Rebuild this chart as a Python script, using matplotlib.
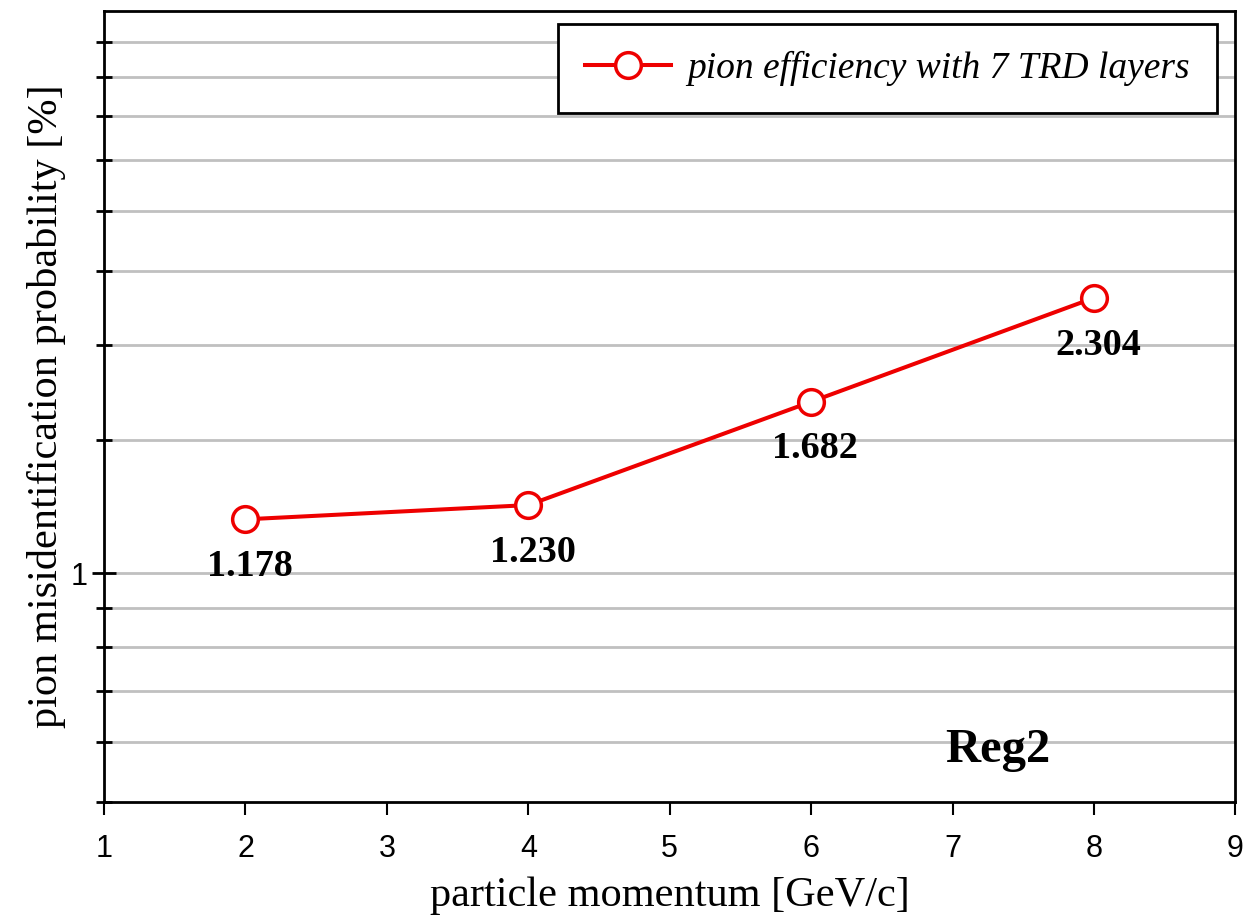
import matplotlib
matplotlib.use("Agg")
import matplotlib.pyplot as plt
from matplotlib.ticker import FixedLocator, NullFormatter, FixedFormatter

# data
momentum = [2, 4, 6, 8]
misid = [1.178, 1.230, 1.682, 2.304]
labels = ["1.178", "1.230", "1.682", "2.304"]
x_ticks = [1, 2, 3, 4, 5, 6, 7, 8, 9]
y_major = [1]
y_minor = [0.5, 0.6, 0.7, 0.8, 0.9, 1.5, 2, 2.5, 3, 3.5, 4, 4.5, 5]

serif = ["Liberation Serif", "DejaVu Serif"]
sans = ["Liberation Sans", "DejaVu Sans"]

fig = plt.figure(figsize=(12.46, 9.19), dpi=100)
ax = fig.add_axes([0.0835, 0.127, 0.908, 0.8615])

ax.set_yscale("log")
ax.set_xlim(1, 9)
ax.set_ylim(0.5, 5.5)

# grid lines at minor + major y positions
for v in y_minor + y_major:
    if v > 0.5:
        ax.axhline(v, color="#c0c0c0", lw=2, zorder=0)

ax.plot(momentum, misid, color="#ee0000", lw=2.9, marker="o", ms=18.5,
        mfc="white", mec="#ee0000", mew=2.5, zorder=3,
        label="pion efficiency with 7 TRD layers")

for x, y, t in zip(momentum, misid, labels):
    ax.annotate(t, (x, y), xytext=(3, -34), textcoords="offset points",
                ha="center", va="center", fontsize=27.5, fontweight="bold",
                family=serif, zorder=4)

ax.text(0.7436, 0.066, "Reg2", transform=ax.transAxes, fontsize=35,
        fontweight="bold", family=serif, ha="left", va="center")

ax.xaxis.set_major_locator(FixedLocator(x_ticks))
ax.yaxis.set_major_locator(FixedLocator(y_major))
ax.yaxis.set_major_formatter(FixedFormatter(["1"]))
ax.yaxis.set_minor_locator(FixedLocator(y_minor))
ax.yaxis.set_minor_formatter(NullFormatter())

ax.tick_params(axis="x", direction="out", length=9, width=1.5, labelsize=22, pad=14)
ax.tick_params(axis="y", which="major", direction="inout", length=17, width=2,
               labelsize=22, pad=3)
ax.tick_params(axis="y", which="minor", direction="inout", length=11.5, width=2)
for lab in ax.get_xticklabels() + ax.get_yticklabels():
    lab.set_family(sans)

for s in ax.spines.values():
    s.set_linewidth(2)
    s.set_color("black")

ax.set_xlabel("particle momentum [GeV/c]", family=serif, fontsize=30.5, labelpad=9)
ax.set_ylabel("pion misidentification probability [%]", family=serif,
              fontsize=30.5, labelpad=4)

leg = ax.legend(loc="upper right", bbox_to_anchor=(0.984, 0.983),
                prop={"family": serif, "style": "italic", "size": 27},
                frameon=True, fancybox=False, edgecolor="black",
                handlelength=2.3, borderpad=0.72, handletextpad=0.45,
                borderaxespad=0)
leg.get_frame().set_linewidth(2)
leg.get_frame().set_alpha(1)

fig.savefig("out.png", dpi=100)
